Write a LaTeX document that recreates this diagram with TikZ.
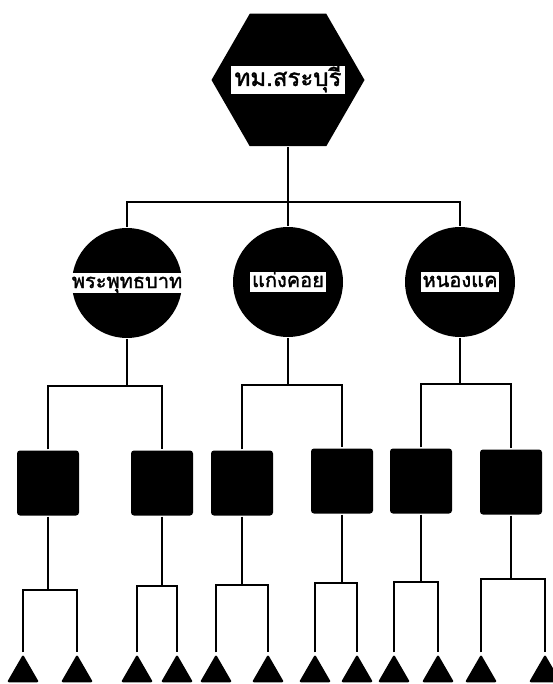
\documentclass[tikz,border=0pt]{standalone}
\usepackage{fontspec}
\newfontfamily\thaifont[Script=Thai,FakeBold=1.6]{Loma}
\usetikzlibrary{shapes.geometric}
\begin{document}
\begin{tikzpicture}[x=1pt,y=-1pt,line width=2.2pt,
  hexnode/.style={regular polygon,regular polygon sides=6,minimum size=153pt,fill=black,inner sep=0pt},
  roundnode/.style={circle,minimum size=110pt,fill=black,inner sep=0pt},
  boxnode/.style={rectangle,minimum width=62pt,minimum height=65pt,rounded corners=3pt,fill=black,inner sep=0pt},
  leafnode/.style={regular polygon,regular polygon sides=3,minimum size=37pt,rounded corners=2pt,fill=black,inner sep=0pt},
  tag/.style={fill=white,text=black,inner xsep=2pt,inner ysep=1pt,text height=14pt,text depth=4pt,
    font=\thaifont\fontsize{20}{22}\selectfont},
  bigtag/.style={tag,inner xsep=4pt,inner ysep=2pt,text height=18pt,text depth=6pt,
    font=\thaifont\fontsize{24}{26}\selectfont}]
\useasboundingbox (0,0) rectangle (552,684);

% top level
\node[hexnode] (hex) at (288,80) {};
\node[bigtag] (hexlbl) at (hex.center) {ทม.สระบุรี};

% second level
\node[roundnode] (c1) at (127,283) {};
\node[roundnode] (c2) at (288,282) {};
\node[roundnode] (c3) at (460,282) {};
\node[tag] (c1lbl) at (c1.center) {พระพุทธบาท};
\node[tag] (c2lbl) at (c2.center) {แก่งคอย};
\node[tag] (c3lbl) at (c3.center) {หนองแค};

% third level
\node[boxnode] (s1) at (48,483) {};
\node[boxnode] (s2) at (162,483) {};
\node[boxnode] (s3) at (242,483) {};
\node[boxnode] (s4) at (342,481) {};
\node[boxnode] (s5) at (421,481) {};
\node[boxnode] (s6) at (511,482) {};

% leaves
\node[leafnode] (l1) at (23,673) {};
\node[leafnode] (l2) at (77,673) {};
\node[leafnode] (l3) at (137,673) {};
\node[leafnode] (l4) at (177,673) {};
\node[leafnode] (l5) at (216,673) {};
\node[leafnode] (l6) at (268,673) {};
\node[leafnode] (l7) at (315,673) {};
\node[leafnode] (l8) at (357,673) {};
\node[leafnode] (l9) at (394,673) {};
\node[leafnode] (l10) at (438,673) {};
\node[leafnode] (l11) at (481,673) {};
\node[leafnode] (l12) at (545,673) {};

% junction points of the branches
\coordinate (t0) at (288,202);
\coordinate (m1) at (127,386);
\coordinate (m2) at (288,385);
\coordinate (m3) at (460,384);
\coordinate (n1) at (48,590);
\coordinate (n2) at (162,586);
\coordinate (n3) at (242,585);
\coordinate (n4) at (342,583);
\coordinate (n5) at (421,582);
\coordinate (n6) at (511,579);

% connectors
\draw (hex.south) -- (c2.north);
\draw (c1.north) |- (t0) -| (c3.north);

\draw (c1.south) -- (m1);
\draw (s1.north) |- (m1) -| (s2.north);
\draw (c2.south) -- (m2);
\draw (s3.north) |- (m2) -| (s4.north);
\draw (c3.south) -- (m3);
\draw (s5.north) |- (m3) -| (s6.north);

\draw (s1.south) -- (n1);
\draw (l1.north) |- (n1) -| (l2.north);
\draw (s2.south) -- (n2);
\draw (l3.north) |- (n2) -| (l4.north);
\draw (s3.south) -- (n3);
\draw (l5.north) |- (n3) -| (l6.north);
\draw (s4.south) -- (n4);
\draw (l7.north) |- (n4) -| (l8.north);
\draw (s5.south) -- (n5);
\draw (l9.north) |- (n5) -| (l10.north);
\draw (s6.south) -- (n6);
\draw (l11.north) |- (n6) -| (l12.north);
\end{tikzpicture}
\end{document}
